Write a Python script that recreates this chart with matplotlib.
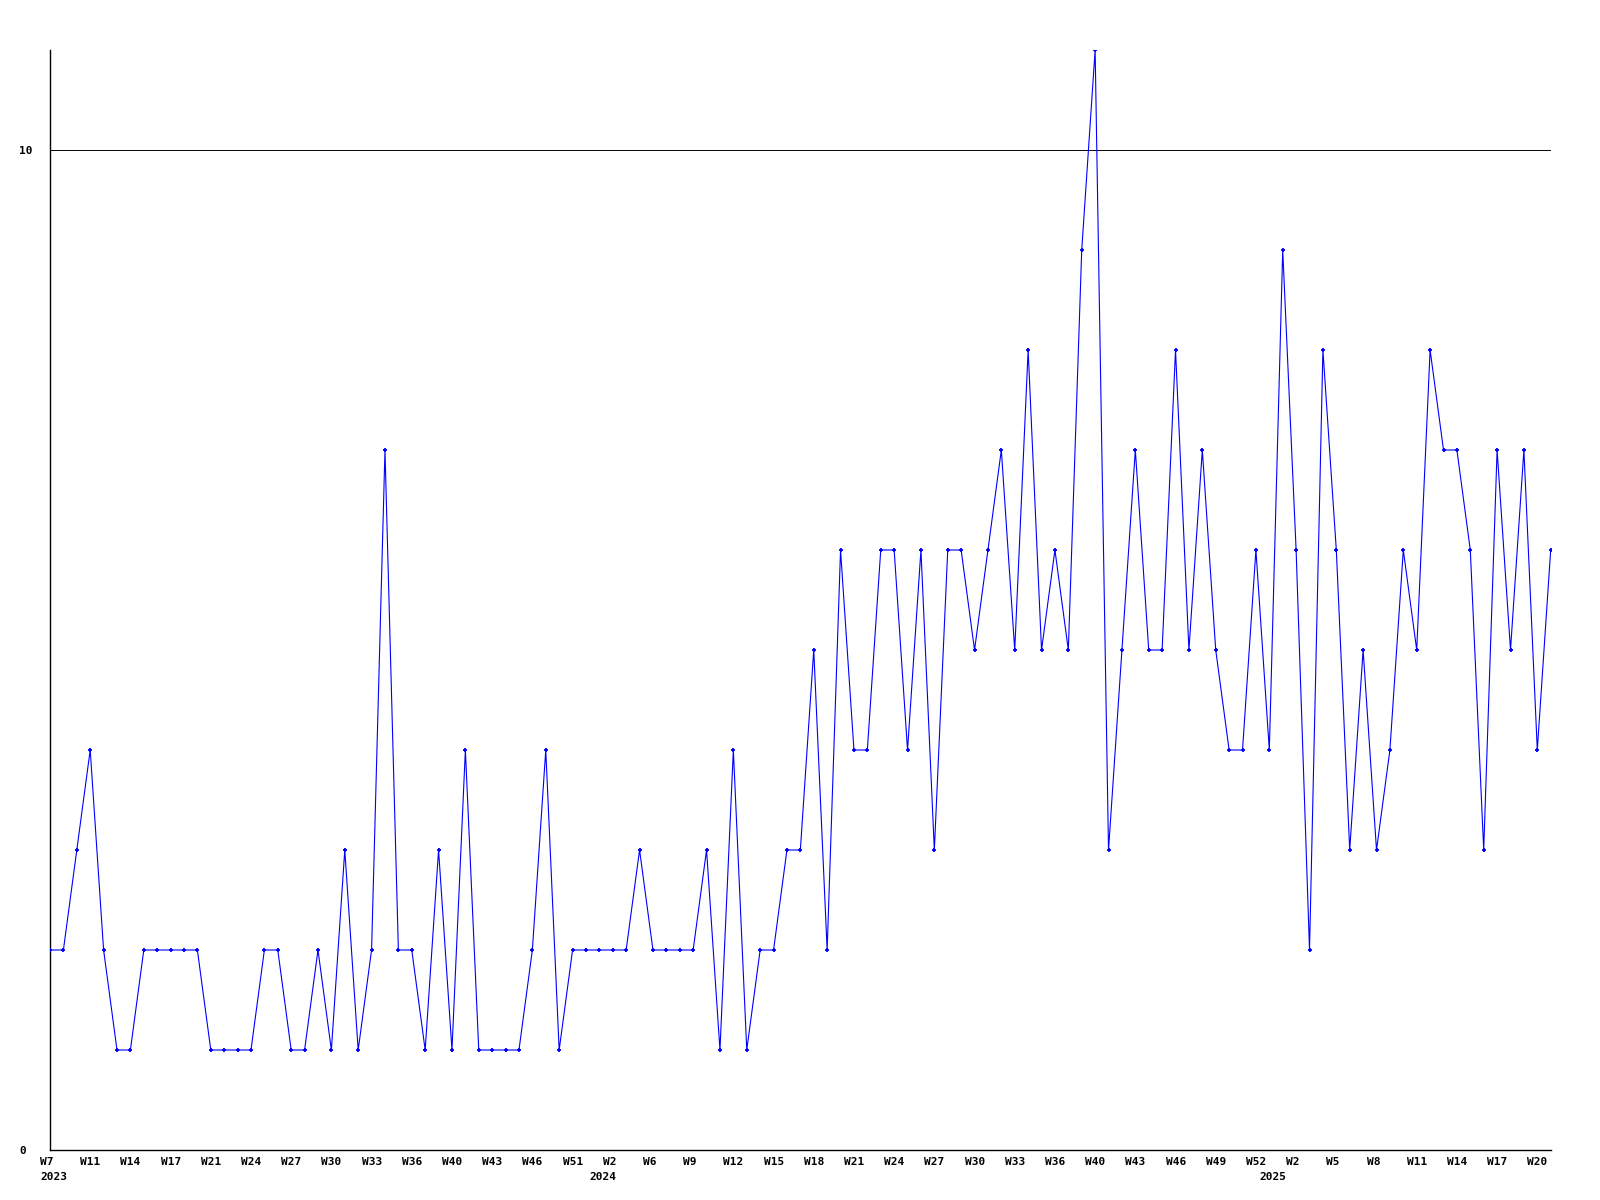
import matplotlib
matplotlib.use("Agg")
import matplotlib.pyplot as plt

# weekly counts, 2023 W7 .. 2025 W21
counts = [
    2, 2, 3, 4, 2, 1, 1, 2, 2, 2, 2, 2, 1, 1, 1, 1, 2, 2, 1, 1,
    2, 1, 3, 1, 2, 7, 2, 2, 1, 3, 1, 4, 1, 1, 1, 1, 2, 4, 1,
    2, 2, 2, 2, 2, 3, 2, 2, 2, 2, 3, 1, 4, 1, 2, 2, 3, 3, 5, 2,
    6, 4, 4, 6, 6, 4, 6, 3, 6, 6, 5, 6, 7, 5, 8, 5, 6, 5, 9,
    11, 3, 5, 7, 5, 5, 8, 5, 7, 5, 4, 4, 6, 4, 9, 6, 2, 8, 6,
    3, 5, 3, 4, 6, 5, 8, 7, 7, 6, 3, 7, 5, 7, 4, 6,
]

# one label every third point
week_labels = [
    "W7", "W11", "W14", "W17", "W21", "W24", "W27", "W30", "W33", "W36",
    "W40", "W43", "W46", "W51", "W2", "W6", "W9", "W12", "W15", "W18",
    "W21", "W24", "W27", "W30", "W33", "W36", "W40", "W43", "W46", "W49",
    "W52", "W2", "W5", "W8", "W11", "W14", "W17", "W20",
]

year_labels = ["2023", "2024", "2025"]
year_start = [0, 41, 91]  # point index where each year begins

y_ticks = [0, 10]

font = {"family": "DejaVu Sans Mono", "weight": "bold", "size": 8}

fig = plt.figure(figsize=(16, 12), dpi=100)
ax = fig.add_axes([50 / 1600, 50 / 1200, 1500.7 / 1600, 1100 / 1200])

x = list(range(len(counts)))

ax.plot(
    x,
    counts,
    color="#0000ff",
    linewidth=0.8,
    marker="+",
    markersize=3.5,
    markeredgewidth=1.3,
    zorder=3
)

ax.set_xlim(0, len(counts) - 1)
ax.set_ylim(0, max(counts))

ax.spines["top"].set_visible(False)
ax.spines["right"].set_visible(False)
ax.spines["left"].set_linewidth(1.0)
ax.spines["bottom"].set_linewidth(1.0)

ax.set_xticks([])
ax.set_yticks(y_ticks)
ax.set_yticklabels([str(t) for t in y_ticks], fontdict=font)
ax.tick_params(axis="y", length=0, pad=22)
for lbl in ax.get_yticklabels():
    lbl.set_horizontalalignment("left")

ax.yaxis.grid(True, color="black", linewidth=0.7)

trans = ax.get_xaxis_transform()

for i, name in enumerate(week_labels):
    ax.annotate(
        name,
        xy=(i * 3, 0),
        xycoords=trans,
        xytext=(-7.2, -8.6),
        textcoords="offset points",
        ha="left", va="center",
        annotation_clip=False,
        **font
    )

for pos, name in zip(year_start, year_labels):
    ax.annotate(
        name,
        xy=(pos, 0),
        xycoords=trans,
        xytext=(-7.2, -19.4),
        textcoords="offset points",
        ha="left", va="center",
        annotation_clip=False,
        **font
    )

fig.savefig("out.png", dpi=100)
plt.close(fig)
